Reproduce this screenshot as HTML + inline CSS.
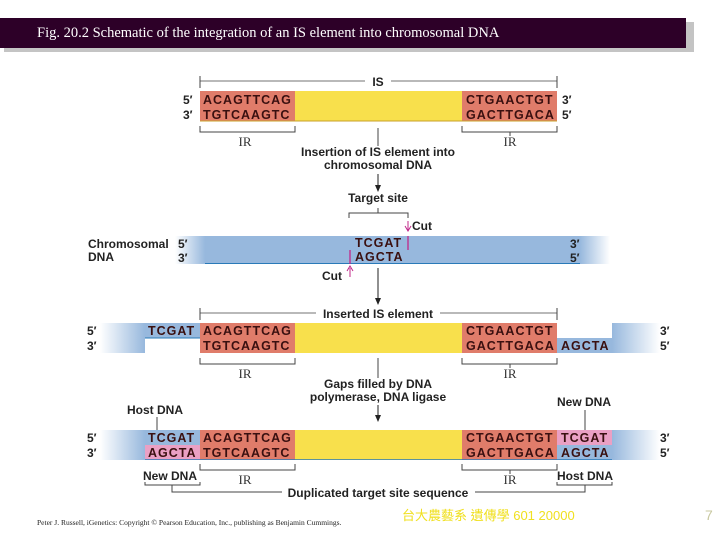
<!DOCTYPE html>
<html><head><meta charset="utf-8"><style>
html,body{margin:0;padding:0;background:#fff;width:720px;height:540px;overflow:hidden}
svg{display:block}
.s{font-family:"Liberation Sans",sans-serif;font-weight:bold;font-size:12px;fill:#222}
.q{font-family:"Liberation Sans",sans-serif;font-weight:bold;font-size:12.5px;fill:#3a1010;letter-spacing:1px}
.ir{font-family:"Liberation Serif",serif;font-size:13px;fill:#333}
</style></head><body>
<svg width="720" height="540" viewBox="0 0 720 540" xmlns="http://www.w3.org/2000/svg">
<defs>
<linearGradient id="fl" x1="0" x2="1"><stop offset="0" stop-color="#97b8dd" stop-opacity="0"/><stop offset="1" stop-color="#97b8dd"/></linearGradient>
<linearGradient id="fr" x1="1" x2="0"><stop offset="0" stop-color="#97b8dd" stop-opacity="0"/><stop offset="1" stop-color="#97b8dd"/></linearGradient>
</defs>
<!-- title -->
<rect x="4" y="22" width="690" height="30" fill="#c4c4c4"/>
<rect x="0" y="18" width="686" height="30" fill="#2d0028"/>
<text x="37" y="37" font-family="Liberation Serif,serif" font-size="14.5" fill="#fff">Fig. 20.2  Schematic of the integration of an IS element into chromosomal DNA</text>

<!-- row1 -->
<line x1="200" y1="81" x2="557" y2="81" stroke="#444" stroke-width="0.8"/>
<line x1="200" y1="76" x2="200" y2="88" stroke="#444"/><line x1="557" y1="76" x2="557" y2="88" stroke="#444"/>
<rect x="365" y="74" width="26" height="14" fill="#fff"/>
<text x="378" y="86" class="s" text-anchor="middle">IS</text>
<rect x="200" y="91" width="95" height="30" fill="#e07c6a"/>
<rect x="295" y="91" width="167" height="30" fill="#f8e04c"/>
<rect x="462" y="91" width="95" height="30" fill="#e07c6a"/>
<line x1="200" y1="121" x2="557" y2="121" stroke="#c9a02a" stroke-width="1"/>
<text x="203" y="104" class="q">ACAGTTCAG</text><text x="203" y="119" class="q">TGTCAAGTC</text>
<text x="466" y="104" class="q">CTGAACTGT</text><text x="466" y="119" class="q">GACTTGACA</text>
<text x="183" y="104" class="s">5′</text><text x="183" y="119" class="s">3′</text>
<text x="562" y="104" class="s">3′</text><text x="562" y="119" class="s">5′</text>
<path d="M200,126V132H295V126M462,126V132H557V126M510,132V136" fill="none" stroke="#444"/>
<text x="245" y="146" class="ir" text-anchor="middle">IR</text><text x="510" y="146" class="ir" text-anchor="middle">IR</text>
<line x1="378" y1="128" x2="378" y2="146" stroke="#444"/>
<text x="378" y="156" class="s" text-anchor="middle">Insertion of IS element into</text>
<text x="378" y="169" class="s" text-anchor="middle">chromosomal DNA</text>
<line x1="378" y1="174" x2="378" y2="186" stroke="#222"/>
<path d="M375,185L381,185L378,192Z" fill="#222"/>
<text x="378" y="202" class="s" text-anchor="middle">Target site</text>
<path d="M349,218V213H408V218M378,213V208" fill="none" stroke="#444"/>

<!-- chromosomal -->
<rect x="175" y="236" width="30" height="28" fill="url(#fl)"/>
<rect x="205" y="236" width="375" height="28" fill="#97b8dd"/>
<rect x="580" y="236" width="30" height="28" fill="url(#fr)"/>
<line x1="205" y1="263.5" x2="580" y2="263.5" stroke="#2a7ab8"/>
<text x="355" y="247" class="q">TCGAT</text><text x="355" y="261" class="q">AGCTA</text>
<line x1="408" y1="236" x2="408" y2="250" stroke="#c0288a" stroke-width="1.3"/>
<line x1="350" y1="250" x2="350" y2="264" stroke="#c0288a" stroke-width="1.3"/>
<path d="M408,221V230M405,226L408,231L411,226" stroke="#c0288a" fill="none"/>
<path d="M350,277V268M347,271L350,266L353,271" stroke="#c0288a" fill="none"/>
<text x="412" y="230" class="s">Cut</text><text x="322" y="280" class="s">Cut</text>
<text x="88" y="248" class="s">Chromosomal</text><text x="88" y="261" class="s">DNA</text>
<text x="178" y="248" class="s">5′</text><text x="178" y="262" class="s">3′</text>
<text x="570" y="248" class="s">3′</text><text x="570" y="262" class="s">5′</text>
<line x1="378" y1="268" x2="378" y2="299" stroke="#222"/>
<path d="M375,298L381,298L378,305Z" fill="#222"/>

<!-- row3 -->
<line x1="200" y1="313" x2="557" y2="313" stroke="#444" stroke-width="0.8"/>
<line x1="200" y1="308" x2="200" y2="320" stroke="#444"/><line x1="557" y1="308" x2="557" y2="320" stroke="#444"/>
<rect x="316" y="306" width="124" height="14" fill="#fff"/>
<text x="378" y="318" class="s" text-anchor="middle">Inserted IS element</text>
<rect x="100" y="323" width="45" height="30" fill="url(#fl)"/>
<rect x="145" y="323" width="55" height="15" fill="#97b8dd"/>
<line x1="145" y1="338" x2="200" y2="338" stroke="#2a7ab8"/>
<rect x="200" y="323" width="95" height="30" fill="#e07c6a"/>
<rect x="295" y="323" width="167" height="30" fill="#f8e04c"/>
<rect x="462" y="323" width="95" height="30" fill="#e07c6a"/>
<rect x="557" y="338" width="55" height="15" fill="#97b8dd"/>
<rect x="612" y="323" width="48" height="30" fill="url(#fr)"/>
<text x="148" y="335" class="q">TCGAT</text>
<text x="203" y="335" class="q">ACAGTTCAG</text><text x="203" y="350" class="q">TGTCAAGTC</text>
<text x="466" y="335" class="q">CTGAACTGT</text><text x="466" y="350" class="q">GACTTGACA</text>
<text x="561" y="350" class="q">AGCTA</text>
<text x="87" y="335" class="s">5′</text><text x="87" y="350" class="s">3′</text>
<text x="660" y="335" class="s">3′</text><text x="660" y="350" class="s">5′</text>
<path d="M200,358V364H295V358M462,358V364H557V358M510,364V368" fill="none" stroke="#444"/>
<text x="245" y="378" class="ir" text-anchor="middle">IR</text><text x="510" y="378" class="ir" text-anchor="middle">IR</text>
<line x1="378" y1="358" x2="378" y2="378" stroke="#444"/>
<text x="378" y="388" class="s" text-anchor="middle">Gaps filled by DNA</text>
<text x="378" y="401" class="s" text-anchor="middle">polymerase, DNA ligase</text>
<line x1="378" y1="405" x2="378" y2="416" stroke="#222"/>
<path d="M375,415L381,415L378,422Z" fill="#222"/>
<text x="127" y="414" class="s">Host DNA</text>
<text x="557" y="406" class="s">New DNA</text>
<line x1="157" y1="417" x2="157" y2="432" stroke="#444"/>
<line x1="585" y1="410" x2="585" y2="432" stroke="#444"/>

<!-- row4 -->
<rect x="100" y="430" width="45" height="30" fill="url(#fl)"/>
<rect x="145" y="430" width="55" height="15" fill="#97b8dd"/>
<rect x="145" y="445" width="55" height="15" fill="#eaa0c4"/>
<rect x="200" y="430" width="95" height="30" fill="#e07c6a"/>
<rect x="295" y="430" width="167" height="30" fill="#f8e04c"/>
<rect x="462" y="430" width="95" height="30" fill="#e07c6a"/>
<rect x="557" y="430" width="55" height="15" fill="#eaa0c4"/>
<rect x="557" y="445" width="55" height="15" fill="#97b8dd"/>
<rect x="612" y="430" width="48" height="30" fill="url(#fr)"/>
<line x1="145" y1="459.5" x2="612" y2="459.5" stroke="#2a7ab8" stroke-width="0.8"/>
<text x="148" y="442" class="q">TCGAT</text><text x="148" y="457" class="q">AGCTA</text>
<text x="203" y="442" class="q">ACAGTTCAG</text><text x="203" y="457" class="q">TGTCAAGTC</text>
<text x="466" y="442" class="q">CTGAACTGT</text><text x="466" y="457" class="q">GACTTGACA</text>
<text x="561" y="442" class="q">TCGAT</text><text x="561" y="457" class="q">AGCTA</text>
<text x="87" y="442" class="s">5′</text><text x="87" y="457" class="s">3′</text>
<text x="660" y="442" class="s">3′</text><text x="660" y="457" class="s">5′</text>
<path d="M200,464V470H295V464M462,464V470H557V464M510,470V474" fill="none" stroke="#444"/>
<text x="245" y="484" class="ir" text-anchor="middle">IR</text><text x="510" y="484" class="ir" text-anchor="middle">IR</text>
<text x="143" y="480" class="s">New DNA</text><text x="557" y="480" class="s">Host DNA</text>
<path d="M145,482V485H200V482M557,482V485H612V482" fill="none" stroke="#444"/>
<path d="M172,485V492H282M475,492H585V485" fill="none" stroke="#444"/>
<text x="378" y="497" class="s" text-anchor="middle">Duplicated target site sequence</text>

<!-- footer -->
<text x="37" y="525" font-family="Liberation Serif,serif" font-size="7.5" fill="#222">Peter J. Russell, iGenetics: Copyright © Pearson Education, Inc., publishing as Benjamin Cummings.</text>
<text x="402" y="520" font-family="'Liberation Sans','Noto Sans CJK TC',sans-serif" font-size="13" fill="#f0e020">台大農藝系 遺傳學 601 20000</text>
<text x="705" y="520" font-family="Liberation Sans,sans-serif" font-size="14" fill="#c8c8a0">7</text>
</svg>
</body></html>
